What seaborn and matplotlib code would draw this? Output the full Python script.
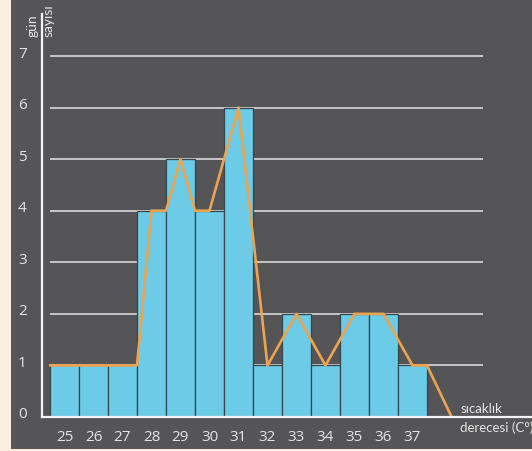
import matplotlib
matplotlib.use("Agg")
import matplotlib.pyplot as plt
import matplotlib.transforms as mtransforms
from matplotlib.patches import Rectangle
import seaborn as sns
import pandas as pd

# Temperature classes (°C) and the number of days in each
temps = [25, 26, 27, 28, 29, 30, 31, 32, 33, 34, 35, 36, 37]
days = [1, 1, 1, 4, 5, 4, 6, 1, 2, 1, 2, 2, 1]

# Hand-drawn frequency line over the bars
line_t = [24.5, 27.5, 28, 28.5, 29, 29.5, 30, 31, 32, 33, 34, 35, 36, 37, 37.5, 38.35]
line_n = [1, 1, 4, 4, 5, 4, 4, 6, 1, 2, 1, 2, 2, 1, 1, 0]

y_ticks = [0, 1, 2, 3, 4, 5, 6, 7]

BG = "#555557"
PAGE = "#fcefe2"
BAR = "#6ccbe6"
BAR_EDGE = "#37454c"
ORANGE = "#eda450"
TXT = "#e4e4e4"
AXIS = "#f4f4f4"
GRID = "#cfcfcf"

sns.set_theme(style="white")
plt.rcParams["font.family"] = ["Open Sans", "DejaVu Sans"]
TITLE_FONT = ["Lato", "DejaVu Sans"]

W, H = 532, 452
fig = plt.figure(figsize=(W / 100, H / 100), dpi=100, facecolor=PAGE)
fig.patches.append(Rectangle((11 / W, 2 / H), 1 - 11 / W, 1 - 3 / H,
                             transform=fig.transFigure, facecolor=BG,
                             edgecolor="none", zorder=-10))

# axes frame: y axis at x=42px, x axis at y=418px (from top), top at 15px
ax_l, ax_r, ax_b, ax_t = 42, 532, H - 418, H - 15
ax = fig.add_axes([ax_l / W, ax_b / H, (ax_r - ax_l) / W, (ax_t - ax_b) / H])
ax.set_facecolor("none")

px_x = 29.0              # pixels per degree
px_y = (418 - 57) / 7.0  # pixels per day
ax.set_xlim(24.5 - 8 / px_x, 24.5 + (ax_r - 50) / px_x)
ax.set_ylim(0, (418 - 15) / px_y)

# horizontal guide lines
ax.hlines(y_ticks[1:], 24.5, 24.5 + (483 - 50) / px_x, colors=GRID,
          linewidth=1.3, zorder=0)

df = pd.DataFrame({"temp": temps, "days": days})
sns.barplot(data=df, x="temp", y="days", native_scale=True, width=1,
            color=BAR, saturation=1, edgecolor=BAR_EDGE, linewidth=0.9,
            ax=ax, zorder=2)

ln = pd.DataFrame({"t": line_t, "n": line_n})
sns.lineplot(data=ln, x="t", y="n", sort=False, color=ORANGE, linewidth=1.9,
             ax=ax, zorder=3)

for s in ["top", "right"]:
    ax.spines[s].set_visible(False)
for s in ["left", "bottom"]:
    ax.spines[s].set_color(AXIS)
    ax.spines[s].set_linewidth(1.6)
    ax.spines[s].set_zorder(4)

ax.set_xticks(temps)
ax.set_xticklabels([str(t) for t in temps])
ax.set_yticks(y_ticks)
ax.set_yticklabels([str(v) for v in y_ticks])
ax.tick_params(axis="both", length=0, colors=TXT, labelsize=11)
ax.tick_params(axis="x", pad=9)
ax.tick_params(axis="y", pad=11)
ax.set_xlabel("")
ax.set_ylabel("")

up = mtransforms.ScaledTranslation(0, 5 / 100, fig.dpi_scale_trans)
for lbl in ax.get_yticklabels():
    lbl.set_transform(lbl.get_transform() + up)

# axis titles
fig.text(33 / W, 1 - 37 / H, "gün", rotation=90, ha="center", va="bottom",
         color=TXT, fontsize=10, family=TITLE_FONT)
fig.text(49 / W, 1 - 37 / H, "sayısı", rotation=90, ha="center", va="bottom",
         color=TXT, fontsize=10, family=TITLE_FONT)
fig.text(461 / W, 1 - 413 / H, "sıcaklık", ha="left", va="baseline",
         color=TXT, fontsize=9.5, family=TITLE_FONT)
fig.text(460 / W, 1 - 432 / H, "derecesi (C°)", ha="left", va="baseline",
         color=TXT, fontsize=9.5, family=TITLE_FONT)

fig.savefig("out.png", dpi=100, facecolor=PAGE)
